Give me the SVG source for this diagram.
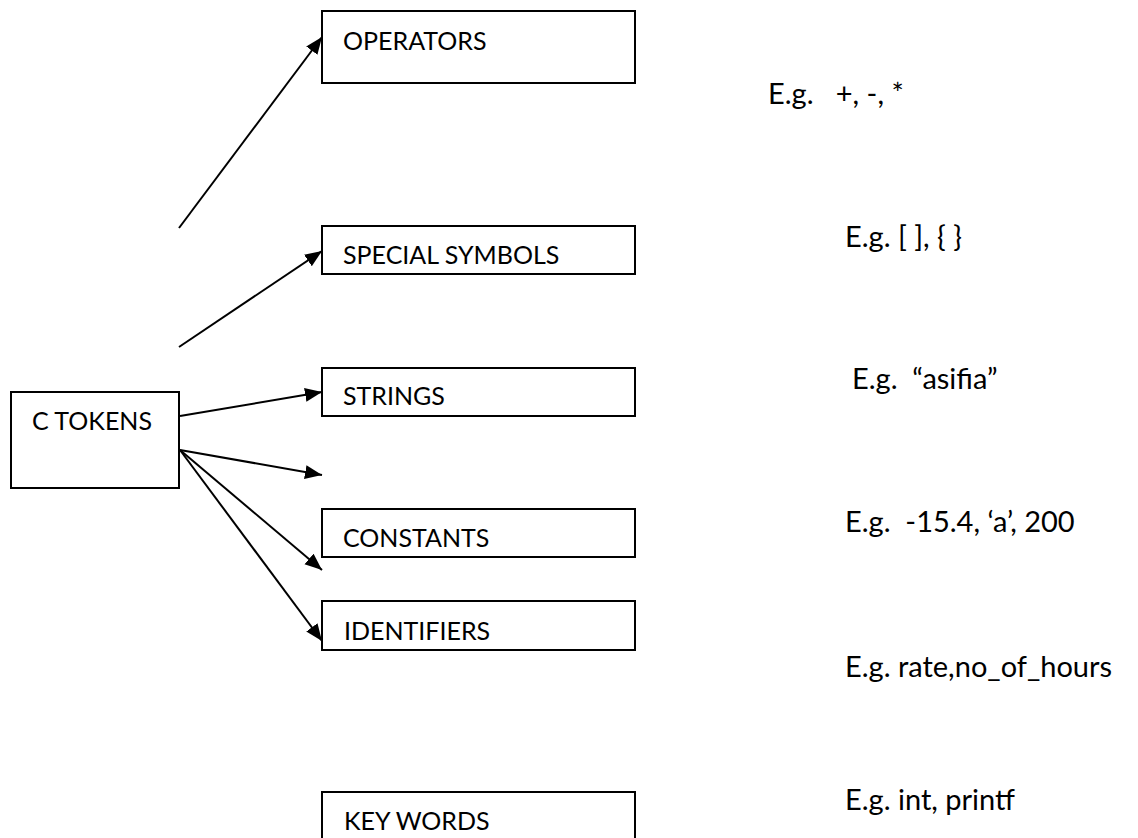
<svg xmlns="http://www.w3.org/2000/svg" width="1138" height="838" viewBox="0 0 1138 838">
<style>
.box{fill:#fff;stroke:#000;stroke-width:2}
.t{font-family:Lato,"Open Sans","Liberation Sans",sans-serif;font-size:25px;fill:#000}
.e{font-family:Lato,"Open Sans","Liberation Sans",sans-serif;font-size:29px;fill:#000}
.c{stroke:#000;stroke-width:2;fill:none;marker-end:url(#ah)}
</style>
<defs>
<marker id="ah" markerUnits="userSpaceOnUse" markerWidth="18" markerHeight="15" refX="17" refY="7" orient="auto">
<path d="M0,0 L17,7 L0,14 Z" fill="#000"/>
</marker>
</defs>
<rect width="1138" height="838" fill="#fff"/>
<g id="connectors">
<line class="c" x1="179" y1="228" x2="322" y2="37"/>
<line class="c" x1="179" y1="347" x2="322" y2="251"/>
<line class="c" x1="180" y1="416" x2="322" y2="392"/>
<line class="c" x1="180" y1="450" x2="322" y2="475"/>
<line class="c" x1="180" y1="450" x2="322" y2="570"/>
<line class="c" x1="180" y1="450" x2="322" y2="641"/>
</g>
<g id="ctokens"><rect class="box" x="11" y="392" width="168" height="96"/><text class="t" x="32" y="430">C TOKENS</text></g>
<g id="operators"><rect class="box" x="322" y="11" width="313" height="72"/><text class="t" x="343" y="50">OPERATORS</text></g>
<g id="special"><rect class="box" x="322" y="226" width="313" height="48"/><text class="t" x="343" y="264">SPECIAL SYMBOLS</text></g>
<g id="strings"><rect class="box" x="322" y="368" width="313" height="48"/><text class="t" x="343" y="405">STRINGS</text></g>
<g id="constants"><rect class="box" x="322" y="509" width="313" height="48"/><text class="t" x="343" y="547">CONSTANTS</text></g>
<g id="identifiers"><rect class="box" x="322" y="601" width="313" height="49"/><text class="t" x="344" y="640">IDENTIFIERS</text></g>
<g id="keywords"><rect class="box" x="322" y="792" width="313" height="50"/><text class="t" x="344" y="830">KEY WORDS</text></g>
<g id="examples">
<text class="e" x="768" y="104" xml:space="preserve">E.g.   +, -, *</text>
<text class="e" x="845" y="247">E.g. [ ], { }</text>
<text class="e" x="852" y="389" xml:space="preserve">E.g.  “asifia”</text>
<text class="e" x="845" y="532" xml:space="preserve">E.g.  -15.4, ‘a’, 200</text>
<text class="e" x="845" y="677">E.g. rate,no_of_hours</text>
<text class="e" x="845" y="810">E.g. int, printf</text>
</g>
</svg>
